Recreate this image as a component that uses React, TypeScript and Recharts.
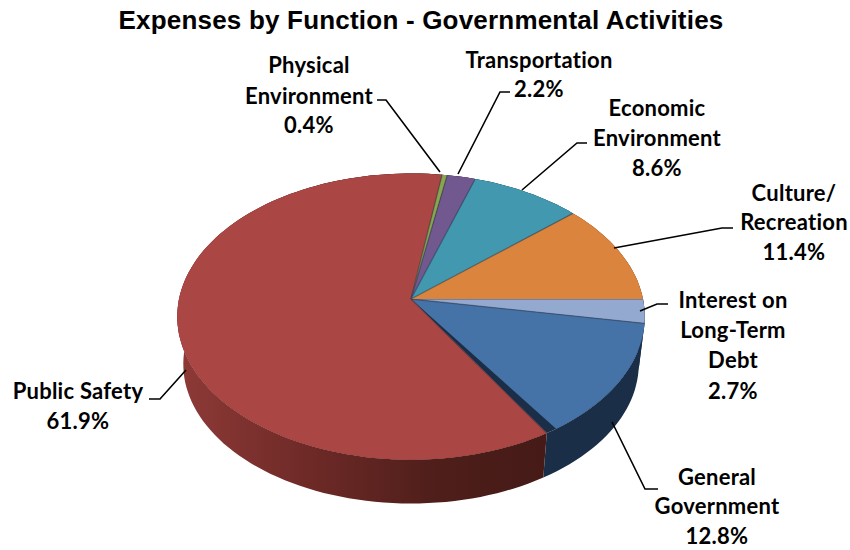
import React from 'react';
import { Pie, PieChart } from 'recharts';

const categories = [
  'Interest on Long-Term Debt',
  'General Government',
  'Public Safety',
  'Physical Environment',
  'Transportation',
  'Economic Environment',
  'Culture/ Recreation',
];
const shares = [2.7, 12.8, 61.9, 0.4, 2.2, 8.6, 11.4];
const faceColors = ['#93A9CF', '#4572A7', '#AA4643', '#89A54E', '#71588F', '#4198AF', '#DB843D'];
const wallColors = ['#1A2E47', '#1A2E47', 'url(#safetyWall)', '#4d5d28', '#3c2c50', '#1f5666', '#8a4d1d'];

const data = categories.map((name, i) => ({ name, value: shares[i] }));

// label text placement, keyed by category: centre x, centre y of each line, leader line
const labelLayout: Record<string, { x: number; lines: string[]; ys: number[]; leader: number[][] }> = {
  'Interest on Long-Term Debt': {
    x: 733,
    lines: ['Interest on', 'Long-Term', 'Debt'],
    ys: [299, 329, 359, 390],
    leader: [[640, 311], [657, 304], [668, 304]],
  },
  'General Government': {
    x: 717,
    lines: ['General', 'Government'],
    ys: [476, 505, 535],
    leader: [[612, 422], [645, 489], [658, 489]],
  },
  'Public Safety': {
    x: 78,
    lines: ['Public Safety'],
    ys: [390, 420],
    leader: [[186, 370], [160, 399], [149, 399]],
  },
  'Physical Environment': {
    x: 309,
    lines: ['Physical', 'Environment'],
    ys: [64, 95, 124],
    leader: [[440, 172], [386, 100], [377, 100]],
  },
  Transportation: {
    x: 539,
    lines: ['Transportation'],
    ys: [59, 88],
    leader: [[458, 174], [500, 92], [510, 92]],
  },
  'Economic Environment': {
    x: 657,
    lines: ['Economic', 'Environment'],
    ys: [107, 137, 167],
    leader: [[522, 190], [577, 143], [587, 143]],
  },
  'Culture/ Recreation': {
    x: 794,
    lines: ['Culture/', 'Recreation'],
    ys: [192, 221, 251],
    leader: [[614, 248], [722, 228], [733, 228]],
  },
};

const TILT = 0.6075;
const PERSPECTIVE = 0.1228;
const DEPTH = 48;
const CUT = 2.6; // Public Safety face stops short of General Government

const project = (deg: number, cx: number, cy: number, r: number) => {
  const a = (deg * Math.PI) / 180;
  const u = Math.cos(a);
  const v = Math.sin(a);
  const d = 1 + PERSPECTIVE * v;
  return [cx + (r * u) / d, cy - (r * TILT * v) / d];
};

const arcPoints = (from: number, to: number, cx: number, cy: number, r: number) => {
  const n = Math.max(2, Math.ceil(Math.abs(to - from) / 2));
  const pts: number[][] = [];
  for (let i = 0; i <= n; i++) pts.push(project(from + ((to - from) * i) / n, cx, cy, r));
  return pts;
};

const toPath = (pts: number[][]) => 'M' + pts.map((p) => p[0].toFixed(1) + ',' + p[1].toFixed(1)).join('L') + 'Z';

const Face = (props: any) => {
  const { cx, cy, outerRadius, startAngle, endAngle, fill, name } = props;
  const start = name === 'Public Safety' ? startAngle - CUT : startAngle;
  const arc = arcPoints(start, endAngle, cx, cy, outerRadius);
  return (
    <g>
      <path d={toPath([[cx, cy], ...arc])} fill={fill} stroke="none" />
      <line
        x1={cx}
        y1={cy}
        x2={arc[0][0]}
        y2={arc[0][1]}
        stroke="#2a3346"
        strokeOpacity={0.45}
        strokeWidth={1.3}
      />
    </g>
  );
};

const Wall = (props: any) => {
  const { cx, cy, outerRadius, startAngle, endAngle, fill, name } = props;
  let start = startAngle;
  let end = endAngle;
  if (name === 'Public Safety') start -= CUT;
  if (name === 'General Government') end -= CUT;
  const top = arcPoints(start, end, cx, cy, outerRadius);
  const bottom = arcPoints(start, end, cx, cy + DEPTH, outerRadius - 6);
  return (
    <g>
      <path d={toPath([...top, ...bottom.reverse()])} fill={fill} stroke="none" />
      <path d={toPath([[cx, cy], ...top])} fill={fill} stroke="none" />
    </g>
  );
};

const SliceLabel = (props: any) => {
  const layout = labelLayout[props.name];
  if (!layout) return null;
  const texts = [...layout.lines, props.value.toFixed(1) + '%'];
  return (
    <g>
      <polyline
        points={layout.leader.map((p) => p.join(',')).join(' ')}
        fill="none"
        stroke="#000"
        strokeWidth={1.6}
      />
      {texts.map((t, i) => (
        <text
          key={t}
          x={layout.x}
          y={layout.ys[i]}
          textAnchor="middle"
          dominantBaseline="central"
          fontFamily="Lato"
          fontWeight={700}
          fontSize={22}
          letterSpacing={0.25}
          fill="#000"
        >
          {t}
        </text>
      ))}
    </g>
  );
};

const wallData = data.map((d, i) => ({ ...d, fill: wallColors[i] }));
const faceData = data.map((d, i) => ({ ...d, fill: faceColors[i] }));

export default function App() {
  return (
    <div style={{ position: 'absolute', left: 0, top: 0, width: 850, height: 550 }}>
      <PieChart width={850} height={550} margin={{ top: 0, right: 0, bottom: 0, left: 0 }}>
        <defs>
          <linearGradient id="safetyWall" gradientUnits="userSpaceOnUse" x1="178" y1="0" x2="550" y2="0">
            <stop offset="0" stopColor="#8E3A37" />
            <stop offset="0.35" stopColor="#6E2A27" />
            <stop offset="0.7" stopColor="#4E1E1A" />
            <stop offset="1" stopColor="#451A17" />
          </linearGradient>
        </defs>
        <text
          x={421}
          y={20}
          textAnchor="middle"
          dominantBaseline="central"
          fontFamily="Liberation Sans"
          fontWeight={700}
          fontSize={26}
          letterSpacing={0.2}
          fill="#000"
        >
          Expenses by Function - Governmental Activities
        </text>
        <Pie
          data={wallData}
          dataKey="value"
          nameKey="name"
          cx={411}
          cy={299}
          outerRadius={232}
          startAngle={0}
          endAngle={-360}
          stroke="none"
          shape={Wall}
          isAnimationActive={false}
        />
        <Pie
          data={faceData}
          dataKey="value"
          nameKey="name"
          cx={411}
          cy={299}
          outerRadius={232}
          startAngle={0}
          endAngle={-360}
          stroke="none"
          shape={Face}
          label={SliceLabel}
          labelLine={false}
          isAnimationActive={false}
        />
      </PieChart>
    </div>
  );
}
